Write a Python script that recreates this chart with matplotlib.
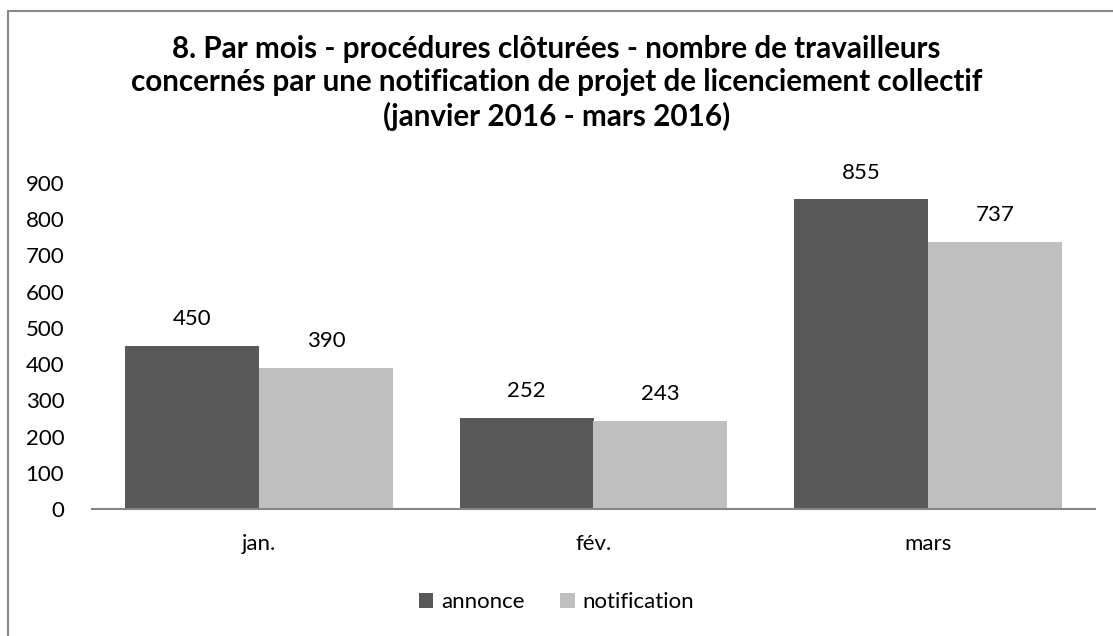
import numpy as np
import matplotlib.pyplot as plt
from matplotlib.patches import Rectangle

plt.rcParams['font.family'] = ['Lato', 'DejaVu Sans']

mois = ['jan.', 'fév.', 'mars']
annonce = [450, 252, 855]
notification = [390, 243, 737]
titre = ("8. Par mois - procédures clôturées - nombre de travailleurs\n"
         "concernés par une notification de projet de licenciement collectif\n"
         "(janvier 2016 - mars 2016)")

fig = plt.figure(figsize=(11.13, 6.36), dpi=100)
# cadre gris du graphique (coupé à droite et en bas)
fig.patches.append(Rectangle((8/1113, -0.1), 1.2, (636-11)/636 + 0.1, transform=fig.transFigure,
                             fill=False, edgecolor='#898989', linewidth=1.5))

ax = fig.add_axes([92/1113, 1-509/636, (1095-92)/1113, (509-183)/636])
x = np.arange(len(mois))
w = 0.4
b1 = ax.bar(x - w/2, annonce, w, color='#595959', label='annonce')
b2 = ax.bar(x + w/2, notification, w, color='#BFBFBF', label='notification')
for bars in (b1, b2):
    for r in bars:
        ax.annotate(str(int(r.get_height())), (r.get_x() + r.get_width()/2, r.get_height()),
                    xytext=(0, 12), textcoords='offset points', ha='center', va='bottom',
                    fontsize=16, color='#000000')

ax.set_xlim(-0.5, 2.5)
ax.set_ylim(0, 900)
ax.set_yticks(range(0, 901, 100))
ax.set_xticks(x)
ax.set_xticklabels(mois)
for s in ['top', 'right', 'left']:
    ax.spines[s].set_visible(False)
ax.spines['bottom'].set_color('#868686')
ax.spines['bottom'].set_linewidth(1.5)
ax.tick_params(axis='y', length=0, labelsize=16, pad=20)
ax.tick_params(axis='x', length=0, labelsize=16, pad=18)

fig.text(0.5, 1-83/636, titre, ha='center', va='center', fontsize=21.3, fontweight='bold',
         linespacing=1.25)
fig.legend(loc='center', bbox_to_anchor=(0.5, 1-602/636), ncol=2, frameon=False,
           fontsize=16, handlelength=0.65, handleheight=0.65, handletextpad=0.35, columnspacing=1.6)

fig.savefig('out.png', dpi=100)
